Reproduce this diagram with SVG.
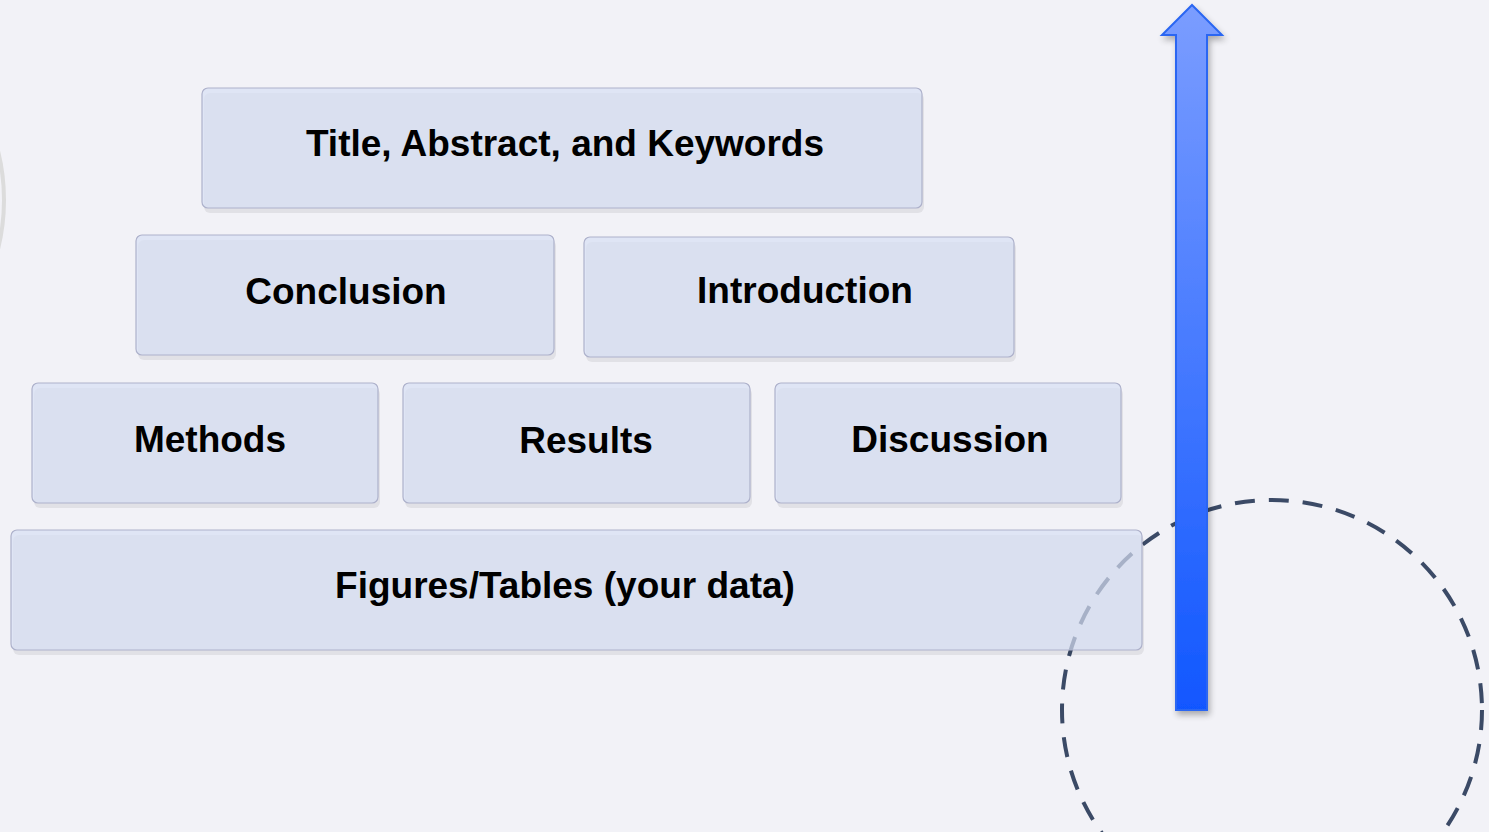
<svg xmlns="http://www.w3.org/2000/svg" width="1489" height="832" viewBox="0 0 1489 832">
<defs>
<linearGradient id="ag" x1="0" y1="0" x2="0" y2="1">
<stop offset="0" stop-color="#7b9dff"/>
<stop offset="1" stop-color="#1157ff"/>
</linearGradient>
<filter id="sh" x="-20%" y="-20%" width="140%" height="140%">
<feGaussianBlur in="SourceAlpha" stdDeviation="3"/>
<feOffset dx="2" dy="4"/>
<feComponentTransfer><feFuncA type="linear" slope="0.3"/></feComponentTransfer>
<feMerge><feMergeNode/><feMergeNode in="SourceGraphic"/></feMerge>
</filter>
</defs>
<style>
.bx{fill:#d7dff3;fill-opacity:0.7;stroke:#adb1cb;stroke-width:1.2}
.sd{fill:#000;fill-opacity:0.065}
.t{font-family:"Liberation Sans",Arial,sans-serif;font-weight:bold;font-size:37px;fill:#000;text-anchor:middle}
</style>
<rect width="1489" height="832" fill="#f2f2f7"/>
<circle cx="-200" cy="200" r="204" fill="none" stroke="#dcdcdc" stroke-width="4"/>
<g id="connectors">
<circle cx="1272" cy="710" r="210" fill="none" stroke="#3b4a66" stroke-width="4" stroke-dasharray="20 14"/>
</g>
<g id="title"><rect class="sd" x="204" y="93" width="720" height="120" rx="6"/><rect class="bx" x="202" y="88" width="720" height="120" rx="6"/><text class="t" x="565" y="156">Title, Abstract, and Keywords</text></g>
<g id="conclusion"><rect class="sd" x="138" y="240" width="418" height="120" rx="6"/><rect class="bx" x="136" y="235" width="418" height="120" rx="6"/><text class="t" x="346" y="304">Conclusion</text></g>
<g id="introduction"><rect class="sd" x="586" y="242" width="430" height="120" rx="6"/><rect class="bx" x="584" y="237" width="430" height="120" rx="6"/><text class="t" x="805" y="303">Introduction</text></g>
<g id="methods"><rect class="sd" x="34" y="388" width="346" height="120" rx="6"/><rect class="bx" x="32" y="383" width="346" height="120" rx="6"/><text class="t" x="210" y="452">Methods</text></g>
<g id="results"><rect class="sd" x="405" y="388" width="347" height="120" rx="6"/><rect class="bx" x="403" y="383" width="347" height="120" rx="6"/><text class="t" x="586" y="453">Results</text></g>
<g id="discussion"><rect class="sd" x="777" y="388" width="346" height="120" rx="6"/><rect class="bx" x="775" y="383" width="346" height="120" rx="6"/><text class="t" x="950" y="452">Discussion</text></g>
<g id="figures"><rect class="sd" x="13" y="535" width="1131" height="120" rx="6"/><rect class="bx" x="11" y="530" width="1131" height="120" rx="6"/><text class="t" x="565" y="598">Figures/Tables (your data)</text></g>
<g id="arrow"><path d="M1176,710 L1176,35 L1162,35 L1192,5 L1222,35 L1207,35 L1207,710 Z" fill="url(#ag)" stroke="#2b66f2" stroke-width="2" filter="url(#sh)"/></g>
</svg>
